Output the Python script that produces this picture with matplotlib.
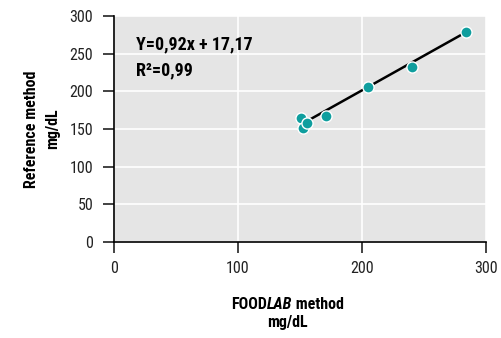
import numpy as np
import matplotlib
matplotlib.use("Agg")
import matplotlib.pyplot as plt
from matplotlib.offsetbox import TextArea, HPacker, VPacker, AnchoredOffsetbox

plt.rcParams['font.family'] = ['Roboto Condensed', 'Liberation Sans', 'DejaVu Sans']

# data (FOODLAB vs reference, mg/dL)
foodlab = [150.5, 152.2, 155.6, 170.7, 205.1, 240.6, 283.6]
reference = [164.3, 151.8, 158.4, 167.3, 205.4, 232.4, 278.5]
slope, intercept = 0.92, 17.17
fit_range = [157, 281]
ticks = [0, 50, 100, 150, 200, 250, 300]
xticks = [0, 100, 200, 300]

fig = plt.figure(figsize=(5.02, 3.38), dpi=100)
ax = fig.add_axes([0.227, 0.284, 0.741, 0.669])
ax.set_facecolor('#e5e5e5')
ax.set_xlim(0, 300)
ax.set_ylim(0, 300)
ax.set_xticks(xticks)
ax.set_yticks(ticks)
ax.grid(True, color='white', linewidth=1.2)
ax.set_axisbelow(True)
for s in ['top', 'right']:
    ax.spines[s].set_visible(False)
for s in ['left', 'bottom']:
    ax.spines[s].set_linewidth(1.2)
ax.tick_params(direction='out', length=8, width=1.2, labelsize=11.5, pad=7, colors='#222222')
ax.tick_params(axis='x', pad=6)

xf = np.array(fit_range)
ax.plot(xf, slope * xf + intercept, color='black', lw=1.8, zorder=2)
ax.plot(foodlab, reference, 'o', color='#0f9e9e', markersize=8,
        markeredgecolor='white', markeredgewidth=1, zorder=3, clip_on=False)

ax.text(18, 262, 'Y=0,92x + 17,17', fontsize=13, weight='bold', va='center')
ax.text(18, 228, 'R\u00b2=0,99', fontsize=13, weight='bold', va='center')

ax.set_ylabel('Reference method\nmg/dL', fontsize=11.5, weight='bold', labelpad=7,
              linespacing=1.45)

# x label with italic "LAB"
line1 = HPacker(children=[
    TextArea('FOOD', textprops=dict(fontsize=11.5, weight='bold')),
    TextArea('LAB', textprops=dict(fontsize=11.5, weight='bold', style='italic')),
    TextArea(' method', textprops=dict(fontsize=11.5, weight='bold')),
], align='baseline', pad=0, sep=0)
line2 = TextArea('mg/dL', textprops=dict(fontsize=11.5, weight='bold'))
box = VPacker(children=[line1, line2], align='center', pad=0, sep=2)
anch = AnchoredOffsetbox(loc='upper center', child=box, pad=0, frameon=False,
                         bbox_to_anchor=(0.466, -0.245), bbox_transform=ax.transAxes,
                         borderpad=0)
ax.add_artist(anch)

fig.savefig('out.png', dpi=100)
